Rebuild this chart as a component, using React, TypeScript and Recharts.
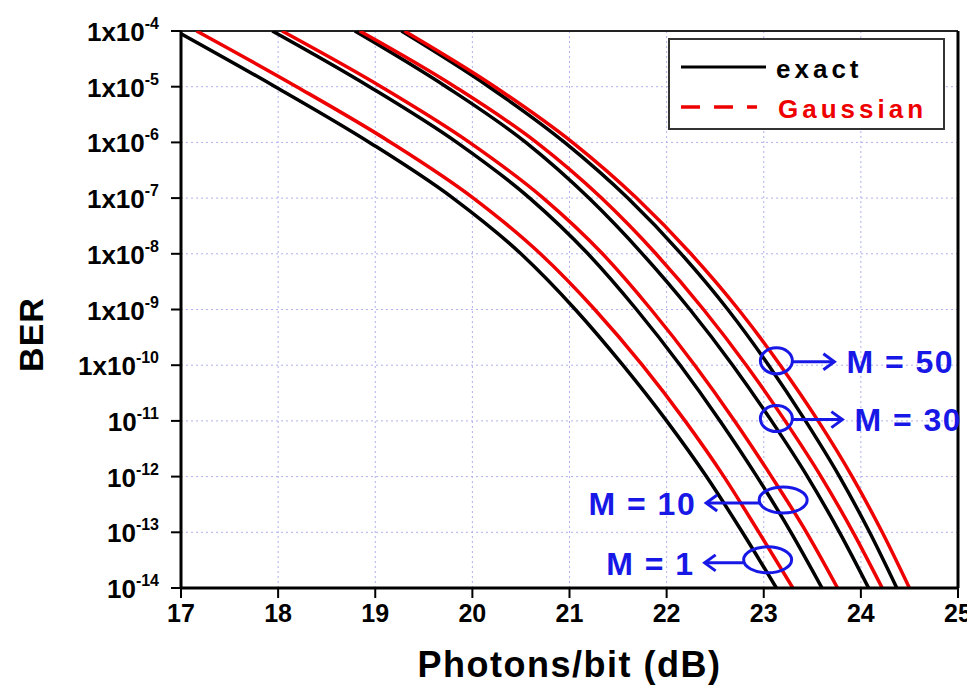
import React from "react";
import {
  LineChart,
  Line,
  XAxis,
  YAxis,
  CartesianGrid,
  ReferenceLine,
  ReferenceDot,
  Legend,
  Label,
} from "recharts";

const berLevels = [1e-4, 1e-5, 1e-6, 1e-7, 1e-8, 1e-9, 1e-10, 1e-11, 1e-12, 1e-13, 1e-14];

// photons/bit (dB) at which each curve crosses the BER levels above
const exactM1 = [16.95, 17.97, 18.94, 19.8, 20.5, 21.06, 21.55, 22.0, 22.41, 22.78, 23.13];
const gaussM1 = [17.16, 18.19, 19.16, 20.01, 20.7, 21.26, 21.75, 22.19, 22.59, 22.95, 23.3];
const exactM10 = [17.94, 18.94, 19.84, 20.59, 21.19, 21.69, 22.14, 22.55, 22.93, 23.28, 23.6];
const gaussM10 = [18.04, 19.06, 19.97, 20.73, 21.34, 21.84, 22.29, 22.7, 23.08, 23.44, 23.76];
const exactM30 = [18.79, 19.73, 20.55, 21.2, 21.75, 22.24, 22.68, 23.08, 23.45, 23.78, 24.08];
const gaussM30 = [18.84, 19.82, 20.66, 21.33, 21.89, 22.38, 22.82, 23.22, 23.59, 23.92, 24.22];
const exactM50 = [19.27, 20.17, 20.95, 21.6, 22.15, 22.63, 23.05, 23.43, 23.78, 24.09, 24.37];
const gaussM50 = [19.3, 20.23, 21.03, 21.69, 22.25, 22.74, 23.17, 23.56, 23.91, 24.22, 24.5];

const xTicks = [17, 18, 19, 20, 21, 22, 23, 24, 25];

// curve labels: which M, where the ellipse sits, arrow direction
const mLabels = [
  { text: "M = 50", x: 23.13, y: 1.2e-10, side: "right" },
  { text: "M = 30", x: 23.13, y: 1.1e-11, side: "right" },
  { text: "M = 10", x: 23.2, y: 3.8e-13, side: "left" },
  { text: "M = 1", x: 23.04, y: 3.2e-14, side: "left" },
];

const toPoints = (xs: number[]) => xs.map((x, i) => ({ x, ber: berLevels[i] }));

const series = [
  { name: "exact M=1", data: toPoints(exactM1), color: "#000" },
  { name: "exact M=10", data: toPoints(exactM10), color: "#000" },
  { name: "exact M=30", data: toPoints(exactM30), color: "#000" },
  { name: "exact M=50", data: toPoints(exactM50), color: "#000" },
  { name: "Gaussian M=1", data: toPoints(gaussM1), color: "#ee0000" },
  { name: "Gaussian M=10", data: toPoints(gaussM10), color: "#ee0000" },
  { name: "Gaussian M=30", data: toPoints(gaussM30), color: "#ee0000" },
  { name: "Gaussian M=50", data: toPoints(gaussM50), color: "#ee0000" },
];

const FONT = "'Liberation Sans', Arial, sans-serif";
const BLUE = "#1818e6";

function BerTick({ x, y, payload }: any) {
  const exp = Math.round(Math.log10(payload.value));
  const base = exp >= -10 ? "1x10" : "10";
  return (
    <text x={x - 12} y={y + 10} textAnchor="end" fontFamily={FONT} fontWeight="bold" fill="#000">
      <tspan fontSize={26}>{base}</tspan>
      <tspan fontSize={16} dy={-12}>
        {exp}
      </tspan>
    </text>
  );
}

function MarkerShape(props: any, lbl: (typeof mLabels)[number]) {
  const { cx, cy } = props;
  const right = lbl.side === "right";
  const rx = right ? 16 : 24;
  const ry = 13;
  let ax1, ax2, ay, tx, ty, anchor;
  if (right) {
    ax1 = cx + rx;
    ax2 = cx + (lbl.text === "M = 50" ? 58 : 66);
    ay = cy + 1;
    tx = ax2 + 12;
    ty = cy + 12;
    anchor = "start";
  } else {
    ax1 = cx - rx;
    ax2 = cx - (lbl.text === "M = 10" ? 77 : 63);
    ay = cy + 3;
    tx = ax2 - 10;
    ty = cy + 15;
    anchor = "end";
  }
  const dir = right ? 1 : -1;
  return (
    <g>
      <ellipse cx={cx} cy={cy} rx={rx} ry={ry} fill="none" stroke={BLUE} strokeWidth={3} />
      <line x1={ax1} y1={ay} x2={ax2} y2={ay} stroke={BLUE} strokeWidth={3} />
      <polyline
        points={`${ax2 - dir * 11},${ay - 8} ${ax2},${ay} ${ax2 - dir * 11},${ay + 8}`}
        fill="none"
        stroke={BLUE}
        strokeWidth={3}
      />
      <text
        x={tx}
        y={ty}
        textAnchor={anchor}
        fontFamily={FONT}
        fontWeight="bold"
        fontSize={32}
        letterSpacing={1.5}
        fill={BLUE}
      >
        {lbl.text}
      </text>
    </g>
  );
}

function LegendBox() {
  return (
    <svg width={277} height={92} style={{ display: "block" }}>
      <rect x={1} y={1} width={275} height={90} fill="#fff" stroke="#333" strokeWidth={2} />
      <line x1={13} y1={29} x2={98} y2={29} stroke="#000" strokeWidth={3} />
      <text x={108} y={40} fontFamily={FONT} fontWeight="bold" fontSize={26} letterSpacing={4} fill="#000">
        exact
      </text>
      <line x1={13} y1={69} x2={89} y2={69} stroke="#ee0000" strokeWidth={3.5} strokeDasharray="19 14" />
      <text x={110} y={80} fontFamily={FONT} fontWeight="bold" fontSize={26} letterSpacing={4} fill="#ee0000">
        Gaussian
      </text>
    </svg>
  );
}

export default function App() {
  return (
    <div style={{ width: 967, height: 680, fontFamily: FONT }}>
      <LineChart width={967} height={680} margin={{ top: 23, right: 17, bottom: 0, left: 0 }}>
        <CartesianGrid stroke="#b0b0ee" strokeDasharray="2 3" />
        <XAxis
          dataKey="x"
          type="number"
          domain={[17, 25]}
          ticks={xTicks}
          allowDataOverflow
          height={100}
          tickSize={10}
          tickMargin={6}
          axisLine={{ stroke: "#000", strokeWidth: 3 }}
          tickLine={{ stroke: "#000", strokeWidth: 2 }}
          tick={{ fill: "#000", fontSize: 25, fontWeight: "bold", fontFamily: FONT }}
        >
          <Label
            value="Photons/bit (dB)"
            position="insideBottom"
            offset={11}
            style={{ fontSize: 36, fontWeight: "bold", fill: "#000", letterSpacing: 1.5, fontFamily: FONT }}
          />
        </XAxis>
        <YAxis
          dataKey="ber"
          type="number"
          scale="log"
          domain={[1e-14, 1e-4]}
          ticks={berLevels}
          allowDataOverflow
          width={173}
          tickSize={10}
          tickMargin={0}
          axisLine={{ stroke: "#000", strokeWidth: 3 }}
          tickLine={{ stroke: "#000", strokeWidth: 2 }}
          tick={<BerTick />}
        >
          <Label
            content={(p: any) => {
              const vb = p.viewBox;
              const cx = vb.x + 23;
              const cy = vb.y + vb.height / 2 + 25;
              return (
                <text
                  x={cx}
                  y={cy}
                  transform={`rotate(-90 ${cx} ${cy})`}
                  textAnchor="middle"
                  dominantBaseline="central"
                  fontFamily={FONT}
                  fontWeight="bold"
                  fontSize={34}
                  letterSpacing={1}
                  fill="#000"
                >
                  BER
                </text>
              );
            }}
          />
        </YAxis>
        <ReferenceLine y={1e-4} stroke="#222" strokeWidth={2} />
        <ReferenceLine x={25} stroke="#000" strokeWidth={3} />
        {series.map((s) => (
          <Line
            key={s.name}
            name={s.name}
            data={s.data}
            dataKey="ber"
            type="monotone"
            stroke={s.color}
            strokeWidth={3.5}
            dot={false}
            activeDot={false}
            isAnimationActive={false}
          />
        ))}
        {mLabels.map((lbl) => (
          <ReferenceDot
            key={lbl.text}
            x={lbl.x}
            y={lbl.y}
            r={0}
            shape={(p: any) => MarkerShape(p, lbl)}
          />
        ))}
        <Legend
          layout="horizontal"
          verticalAlign="middle"
          align="center"
          wrapperStyle={{ top: 30, left: 660, width: 277, height: 92 }}
          content={() => <LegendBox />}
        />
      </LineChart>
    </div>
  );
}
